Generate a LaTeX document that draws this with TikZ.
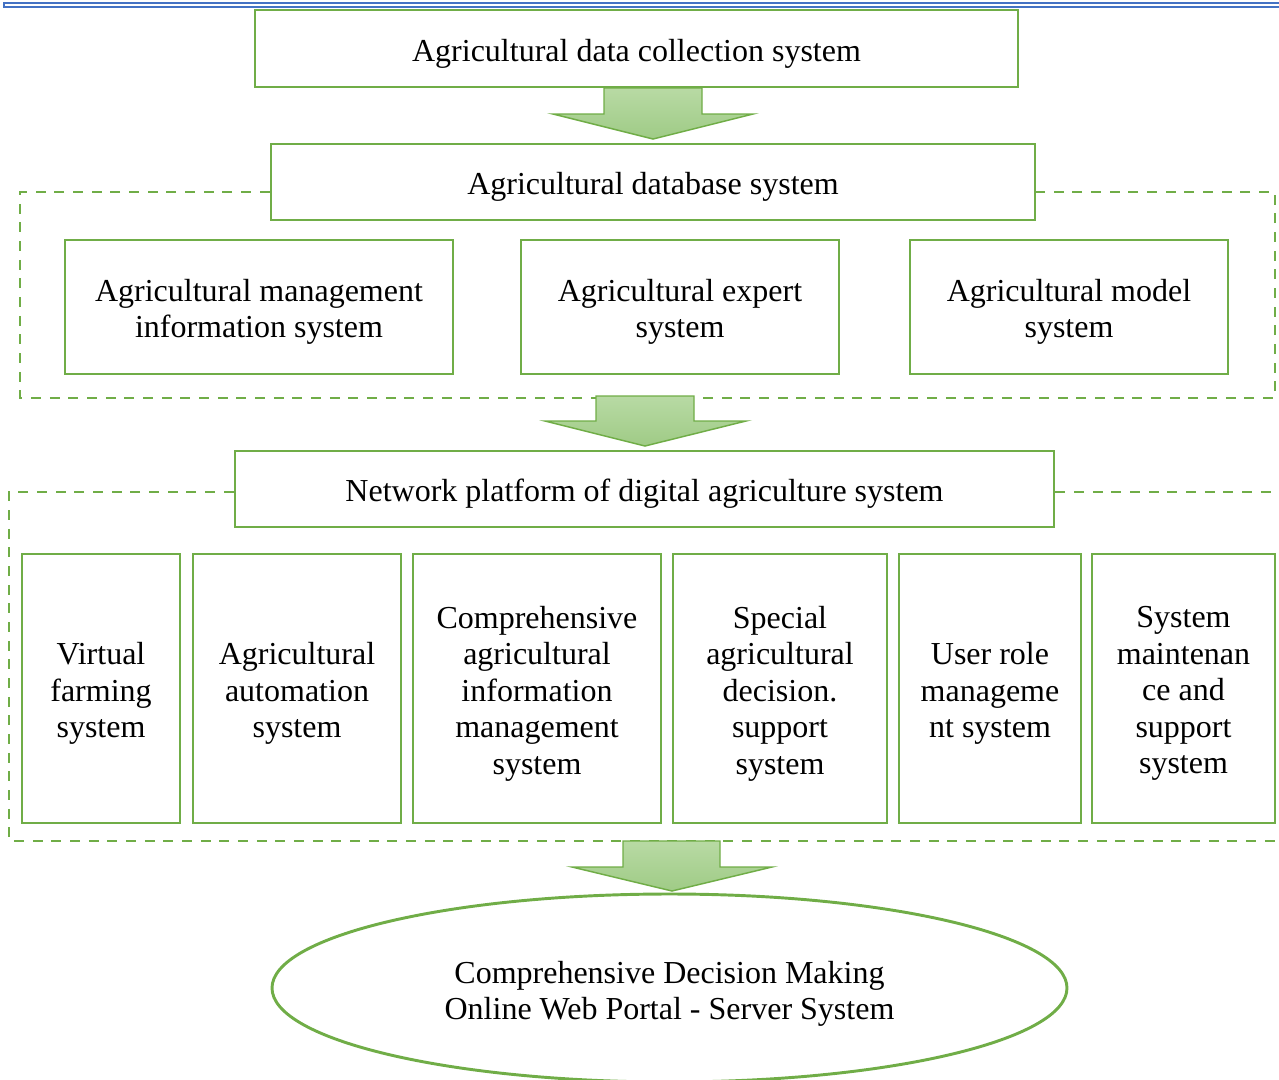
\documentclass[tikz,border=0pt]{standalone}
\usepackage{fontspec}
\setmainfont{Liberation Serif}
\usetikzlibrary{shapes.geometric,calc}
\definecolor{grn}{HTML}{70AD47}
\definecolor{arrtop}{HTML}{B8DAA4}
\definecolor{arrbot}{HTML}{9FCB86}
\definecolor{topblue}{HTML}{4472C4}
\tikzset{
  box/.style={draw=grn, line width=2.2pt, inner sep=0pt},
  txt/.style={inner sep=0pt, align=center, font=\fontsize{24pt}{27.4pt}\selectfont},
  dashbox/.style={draw=grn, line width=2.2pt, dash pattern=on 7.5pt off 6.5pt},
  blockarrow/.style={draw=grn, line width=1.1pt, line join=miter, top color=arrtop, bottom color=arrbot},
  portal/.style={ellipse, draw=grn, line width=2.2pt, inner sep=0pt}
}
\newcommand\bx[6]{\node[box, minimum width={(#4-#2)*0.75pt}, minimum height={(#5-#3)*0.75pt}] (#1) at ({(#2+#4)/2},{(#3+#5)/2}) {};
  \node[txt] (#1-t) at ([yshift=-3.75pt]#1.center) {#6};}
\begin{document}
\begin{tikzpicture}[x=0.75pt,y=-0.75pt]
\useasboundingbox (0,0) rectangle (1279,1079);
\clip (0,0) rectangle (1279,1079);
% top blue rule
\fill[topblue] (3,2) rectangle (1279,8.3);
\fill[white] (4.5,4) rectangle (1279,6);

\bx{collect}{255}{10}{1018}{87}{Agricultural data collection system}
\bx{db}{271}{144}{1035}{220}{Agricultural database system}
\bx{mis}{65}{240}{453}{374}{Agricultural management\\information system}
\bx{expert}{521}{240}{839}{374}{Agricultural expert\\system}
\bx{model}{910}{240}{1228}{374}{Agricultural model\\system}
\draw[dashbox] (db.west |- 20,192) -- (20,192) -- (20,398) -- (1275,398) -- (1275,192) -- (db.east |- 1275,192);

\bx{net}{235}{451}{1054}{527}{Network platform of digital agriculture system}
\bx{virt}{22}{554}{180}{823}{Virtual\\farming\\system}
\bx{auto}{193}{554}{401}{823}{Agricultural\\automation\\system}
\bx{comp}{413}{554}{661}{823}{Comprehensive\\agricultural\\information\\management\\system}
\bx{spec}{673}{554}{887}{823}{Special\\agricultural\\decision.\\support\\system}
\bx{user}{899}{554}{1081}{823}{User role\\manageme\\nt system}
\bx{maint}{1092}{554}{1275}{823}{System\\maintenan\\ce and\\support\\system}
\draw[dashbox] (net.west |- 9,492) -- (9,492) -- (9,841) -- (1300,841);
\draw[dashbox] (net.east |- 1300,492) -- (1300,492);

\node[portal, minimum width={795*0.75pt}, minimum height={188*0.75pt}] (portal) at (669.5,988) {};
\node[txt] (portal-t) at ([yshift=-4.5pt]portal.center) {Comprehensive Decision Making\\Online Web Portal - Server System};

\draw[blockarrow] (604,88) -- (702,88) -- (702,114) -- (753,114) -- (653,139) -- (553,114) -- (604,114) -- cycle;
\draw[blockarrow] (596,396) -- (694,396) -- (694,421) -- (746,421) -- (645,446) -- (545,421) -- (596,421) -- cycle;
\draw[blockarrow] (623,841) -- (720,841) -- (720,867) -- (772,867) -- (672,891) -- (572,867) -- (623,867) -- cycle;
\end{tikzpicture}
\end{document}
